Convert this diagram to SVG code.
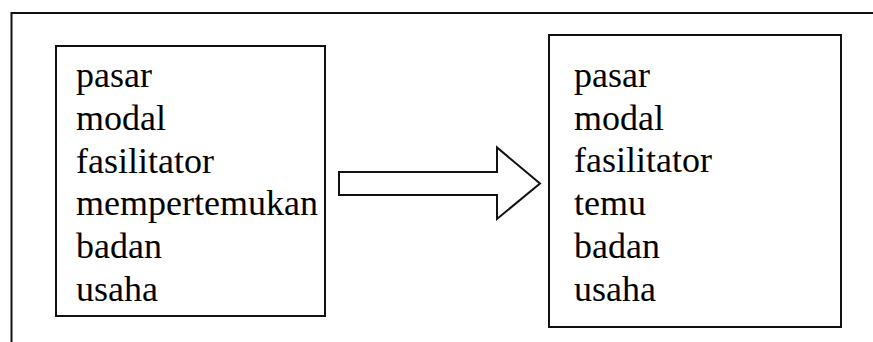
<svg xmlns="http://www.w3.org/2000/svg" width="873" height="342" viewBox="0 0 873 342">
<style>
.box{fill:#fff;stroke:#111;stroke-width:2}
.frame{fill:none;stroke:#111;stroke-width:2}
</style>
<rect width="873" height="342" fill="#fff"/>
<g id="frame"><path class="frame" d="M11.5 342 V13 H873"/></g>
<g id="node-left">
<rect class="box" x="56" y="46" width="269" height="270"/>
<text x="76" y="87" font-family="Liberation Serif" font-size="36">pasar</text>
<text x="76" y="130" font-family="Liberation Serif" font-size="36">modal</text>
<text x="76" y="172.5" font-family="Liberation Serif" font-size="36">fasilitator</text>
<text x="76" y="215" font-family="Liberation Serif" font-size="36">mempertemukan</text>
<text x="76" y="258" font-family="Liberation Serif" font-size="36">badan</text>
<text x="76" y="300.5" font-family="Liberation Serif" font-size="36">usaha</text>
</g>
<g id="node-right">
<rect class="box" x="549" y="35" width="292" height="292"/>
<text x="574" y="87" font-family="Liberation Serif" font-size="36">pasar</text>
<text x="574" y="129.5" font-family="Liberation Serif" font-size="36">modal</text>
<text x="574" y="172" font-family="Liberation Serif" font-size="36">fasilitator</text>
<text x="574" y="215" font-family="Liberation Serif" font-size="36">temu</text>
<text x="574" y="258" font-family="Liberation Serif" font-size="36">badan</text>
<text x="574" y="300.5" font-family="Liberation Serif" font-size="36">usaha</text>
</g>
<g id="connectors">
<polygon class="box" points="339,172 497,172 497,147.5 540,183.5 497,219 497,195 339,195"/>
</g>
</svg>
